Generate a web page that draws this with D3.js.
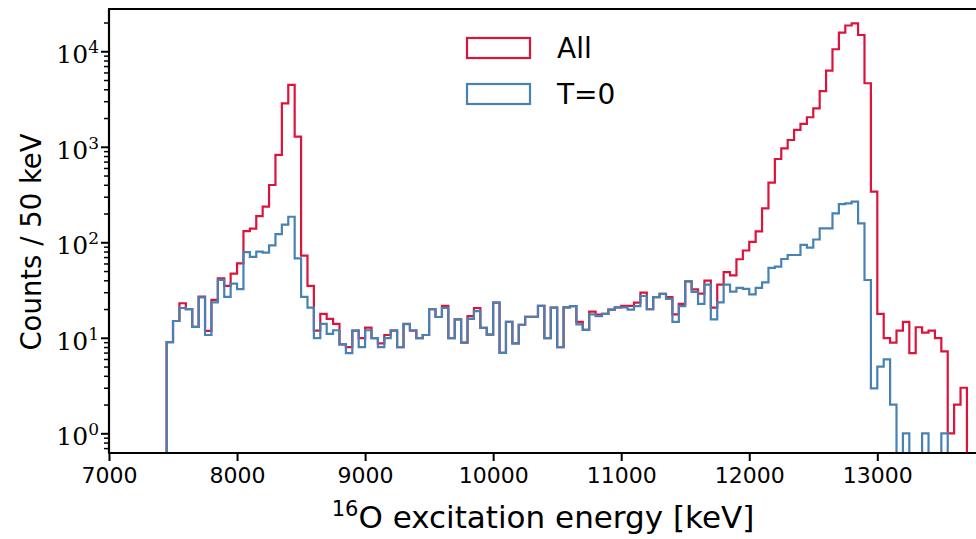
<!DOCTYPE html>
<html>
<head>
<meta charset="utf-8">
<script src="https://cdn.jsdelivr.net/npm/d3@7/dist/d3.min.js"></script>
<style>
  html, body { margin: 0; padding: 0; background: #fff; }
  svg { display: block; }
</style>
</head>
<body>
<svg id="chart" width="976" height="539"></svg>
<script>
// ---------------- data ----------------
const binStart = 7450;   // keV, lower edge of first bin
const binWidth = 50;     // keV
const seriesNames = ["All", "T=0"];
const countsAll = [
  9, 15, 23, 20, 13, 27, 11.8, 25, 42, 35,
  47, 60, 131, 139, 188, 236, 398, 821, 2850, 4440,
  1276, 72.5, 35, 11.9, 17.8, 15.8, 14, 8.55, 8, 11.9,
  9.9, 12.8, 9.9, 8.75, 10.7, 11.9, 8, 14, 11.9, 9.9,
  10.7, 19.9, 16.5, 21.6, 9.9, 15.6, 8.9, 16.9, 20.5, 12.7,
  10.8, 23.4, 6.95, 14.7, 8.75, 13.7, 16.6, 16.6, 21.6, 9.9,
  20.7, 8, 20.8, 21.5, 14.7, 12.1, 18.8, 17.5, 17.8, 19.7,
  20.8, 21.6, 21.6, 23.4, 29.7, 19.9, 26.6, 28.8, 26.6, 17.6,
  22.6, 39, 32.2, 29, 39.6, 20.7, 36, 48.7, 45, 66.4,
  82, 101, 130, 226, 421, 745, 964, 1178, 1500, 1734,
  2037, 2520, 3820, 6266, 10500, 15660, 18600, 19630, 14800, 4625,
  339, 17.8, 9.9, 8.9, 11.9, 14.7, 6.9, 12.9, 11.3, 11.9,
  9.9, 7.2, 1, 2, 3, 0
];
const countsT0 = [
  9, 15, 20.5, 20, 13, 26.5, 10.7, 23.5, 40.5, 26.8,
  37, 32.4, 79, 70.5, 80, 78, 93, 122, 153, 185,
  68, 26.8, 20.7, 9.9, 14, 11, 12, 8.55, 6.9, 11.9,
  8, 12, 9.9, 8, 9.9, 12, 8, 13.9, 12, 9.9,
  10.7, 19.9, 16.5, 20.6, 9.9, 15.6, 8.9, 15.8, 19, 12.7,
  10.8, 23.4, 6.95, 14.7, 8.75, 13.7, 16.6, 16.6, 21.6, 9.9,
  20.7, 8, 20.8, 21.5, 13.8, 12.1, 17.6, 16.8, 17.8, 19.7,
  20.8, 20.8, 19.7, 21.5, 27.4, 19.9, 26.6, 28.8, 25.5, 14.7,
  21.5, 39, 30.2, 22.6, 36, 15.6, 23.5, 36, 30.4, 33.3,
  32.5, 28.5, 33.3, 38, 54, 55.6, 66.8, 73.6, 73.6, 94,
  88, 107, 140, 140, 201, 251, 256, 266, 158, 40.3,
  2.96, 5, 5.95, 2, 0, 1, 0, 0, 1, 0,
  0, 1, 0, 0, 0, 0
];
const xTicks = [7000, 8000, 9000, 10000, 11000, 12000, 13000];
const yTickExps = [0, 1, 2, 3, 4];
const xLabelMain = "O excitation energy [keV]";
const xLabelSup = "16";
const yLabel = "Counts / 50 keV";

// ---------------- layout ----------------
const plot = { left: 109, top: 9, right: 990, bottom: 453 };
const colors = { all: "#dc143c", t0: "#4682b4" };

const svg = d3.select("#chart");

const x = d3.scaleLinear()
  .domain([7000, 7000 + (plot.right - plot.left) / 0.12805])
  .range([plot.left, plot.right]);
const y = d3.scaleLog()
  .domain([0.622, 27700])
  .range([plot.bottom, plot.top]);

svg.append("defs").append("clipPath").attr("id", "clip")
  .append("rect")
  .attr("x", plot.left).attr("y", plot.top)
  .attr("width", plot.right - plot.left).attr("height", plot.bottom - plot.top);

function stepPoints(counts) {
  const pts = [];
  const floor = 0.05;
  pts.push([binStart, floor]);
  counts.forEach((c, i) => {
    const lo = binStart + i * binWidth, hi = lo + binWidth;
    const v = Math.max(c, floor);
    pts.push([lo, v]);
    pts.push([hi, v]);
  });
  pts.push([binStart + counts.length * binWidth, floor]);
  return pts;
}
const line = d3.line().x(d => x(d[0])).y(d => y(d[1]));

const g = svg.append("g").attr("clip-path", "url(#clip)");
g.append("path").datum(stepPoints(countsAll))
  .attr("d", line).attr("fill", "none")
  .attr("stroke", colors.all).attr("stroke-width", 2.2);
g.append("path").datum(stepPoints(countsT0))
  .attr("d", line).attr("fill", "none")
  .attr("stroke", colors.t0).attr("stroke-width", 2.2);

// ---------------- axes ----------------
const xAxis = d3.axisBottom(x).tickValues(xTicks).tickSize(8).tickPadding(6)
  .tickFormat(d3.format("d"));
const gx = svg.append("g").attr("transform", `translate(0,${plot.bottom})`).call(xAxis);
gx.select(".domain").remove();
gx.selectAll(".tick line").attr("stroke", "#000").attr("stroke-width", 2);
gx.selectAll(".tick text")
  .attr("font-family", "DejaVu Sans").attr("font-size", 22).attr("fill", "#000");

const yMajor = yTickExps.map(e => Math.pow(10, e));
const yMinor = [];
for (let e = -1; e <= 4; e++) {
  for (let m = 2; m <= 9; m++) {
    const v = m * Math.pow(10, e);
    if (v >= y.domain()[0] && v <= y.domain()[1]) yMinor.push(v);
  }
}
const gy = svg.append("g").attr("transform", `translate(${plot.left},0)`);
gy.call(d3.axisLeft(y).tickValues(yMinor).tickSize(5).tickFormat(""));
gy.select(".domain").remove();
gy.selectAll(".tick line").attr("stroke", "#000").attr("stroke-width", 1.5);

const gy2 = svg.append("g").attr("transform", `translate(${plot.left},0)`);
gy2.call(d3.axisLeft(y).tickValues(yMajor).tickSize(8).tickFormat(""));
gy2.select(".domain").remove();
gy2.selectAll(".tick line").attr("stroke", "#000").attr("stroke-width", 2);
gy2.selectAll(".tick").each(function(d, i) {
  const t = d3.select(this).append("text")
    .attr("x", -10).attr("y", 0).attr("dy", "0.45em")
    .attr("text-anchor", "end")
    .attr("font-family", "DejaVu Serif").attr("font-size", 25).attr("fill", "#000");
  t.append("tspan").text("10");
  t.append("tspan").attr("dy", -10).attr("font-size", 17).text(String(yTickExps[i]));
});

// spines
svg.append("line").attr("x1", plot.left).attr("x2", plot.left)
  .attr("y1", plot.top).attr("y2", plot.bottom).attr("stroke", "#000").attr("stroke-width", 2.2);
svg.append("line").attr("x1", plot.left - 1).attr("x2", plot.right)
  .attr("y1", plot.bottom).attr("y2", plot.bottom).attr("stroke", "#000").attr("stroke-width", 2.2);
svg.append("line").attr("x1", plot.left - 1).attr("x2", plot.right)
  .attr("y1", plot.top).attr("y2", plot.top).attr("stroke", "#000").attr("stroke-width", 2.2);

// axis labels
const xl = svg.append("text")
  .attr("x", 543).attr("y", 528).attr("text-anchor", "middle")
  .attr("font-family", "DejaVu Sans").attr("font-size", 31).attr("fill", "#000");
xl.append("tspan").attr("font-size", 21).attr("dy", -12).text(xLabelSup);
xl.append("tspan").attr("dy", 12).text(xLabelMain);

svg.append("text")
  .attr("transform", `translate(41,${(plot.top + plot.bottom) / 2 + 11}) rotate(-90)`)
  .attr("text-anchor", "middle")
  .attr("font-family", "DejaVu Sans").attr("font-size", 27.5).attr("fill", "#000")
  .text(yLabel);

// legend
const legend = svg.append("g");
const legendItems = [
  { name: seriesNames[0], color: colors.all, y: 48 },
  { name: seriesNames[1], color: colors.t0, y: 94 }
];
legendItems.forEach(it => {
  legend.append("rect").attr("x", 467).attr("y", it.y - 10).attr("width", 63).attr("height", 20)
    .attr("fill", "none").attr("stroke", it.color).attr("stroke-width", 2.2);
  legend.append("text").attr("x", 557).attr("y", it.y).attr("dy", "0.36em")
    .attr("font-family", "DejaVu Sans").attr("font-size", 28).attr("fill", "#000")
    .text(it.name);
});
</script>
</body>
</html>
